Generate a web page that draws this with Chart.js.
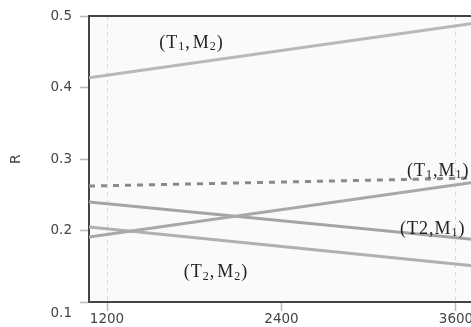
<!DOCTYPE html>
<html>
<head>
<meta charset="utf-8">
<script src="https://cdn.jsdelivr.net/npm/chart.js@4/dist/chart.umd.min.js"></script>
<style>
html, body { margin: 0; padding: 0; overflow: hidden; background: #fff; }
#wrap { width: 490px; height: 327px; }
</style>
</head>
<body>
<div id="wrap"><canvas id="c"></canvas></div>
<script>
// ---- data ----
const xEnds = [1076, 3834];          // x values at the left and right ends of the lines
const xTicks = [1200, 2400, 3600];
const yTicks = [0.1, 0.2, 0.3, 0.4, 0.5];
const seriesT1M2 = [0.4138, 0.4930];
const seriesT1M1Dashed = [0.2622, 0.2740];
const seriesT1M1 = [0.1909, 0.2707];
const seriesT2M1 = [0.2399, 0.1855];
const seriesT2M2 = [0.2050, 0.1482];
const axisTitle = 'R';
// annotations: text ('_' marks a subscript character) and anchor in data units
const noteTexts = ['(T_1, M_2)', '(T_1,M_1)', '(T2,M_1)', '(T_2, M_2)'];
const noteX = [1560, 3263, 3215, 1727];
const noteY = [0.462, 0.2832, 0.2021, 0.1413];

const pts = (vals) => xEnds.map((x, i) => ({ x: x, y: vals[i] }));

const bgPlugin = {
  id: 'bg',
  beforeDraw(chart) {
    const a = chart.chartArea, ctx = chart.ctx;
    ctx.save();
    ctx.fillStyle = '#fafafa';
    ctx.fillRect(a.left, a.top, a.right - a.left, a.bottom - a.top);
    ctx.restore();
  },
  afterDraw(chart) {
    const a = chart.chartArea, ctx = chart.ctx;
    ctx.save();
    ctx.strokeStyle = '#444';
    ctx.lineWidth = 2;
    ctx.beginPath();
    ctx.moveTo(a.left - 1, a.top);
    ctx.lineTo(a.right, a.top);
    ctx.stroke();
    // bottom y tick label, drawn lower than its tick as in the source
    const ys = chart.scales.y;
    ctx.fillStyle = '#444';
    ctx.font = '13.5px "DejaVu Sans"';
    ctx.textAlign = 'right';
    ctx.textBaseline = 'middle';
    ctx.fillText(yTicks[0].toFixed(1), a.left - 17, ys.getPixelForValue(yTicks[0]) + 11);
    ctx.restore();
  }
};

const notePlugin = {
  id: 'notes',
  afterDatasetsDraw(chart) {
    const ctx = chart.ctx, xs = chart.scales.x, ys = chart.scales.y;
    ctx.save();
    ctx.fillStyle = '#222';
    ctx.textBaseline = 'middle';
    ctx.textAlign = 'left';
    noteTexts.forEach((t, k) => {
      let px = xs.getPixelForValue(noteX[k]);
      const py = ys.getPixelForValue(noteY[k]);
      for (let i = 0; i < t.length; i++) {
        let ch = t[i], sub = false;
        if (ch === '_') { sub = true; i++; ch = t[i]; }
        if (ch === ' ') { px += 2; continue; }
        ctx.font = sub ? '12px "Liberation Serif"' : '18px "Liberation Serif"';
        ctx.fillText(ch, px, py + (sub ? 4 : 0));
        px += ctx.measureText(ch).width + 1;
      }
    });
    ctx.restore();
  }
};

const lineDs = (label, vals, color, width, dash) => ({
  label: label,
  data: pts(vals),
  showLine: true,
  borderColor: color,
  borderWidth: width,
  borderDash: dash || [],
  pointRadius: 0,
  fill: false,
  tension: 0
});

new Chart(document.getElementById('c'), {
  type: 'scatter',
  data: {
    datasets: [
      lineDs('(T1,M2)', seriesT1M2, '#b8b8bc', 3),
      lineDs('(T1,M1) dashed', seriesT1M1Dashed, '#8a8a8c', 3, [6, 6]),
      lineDs('(T1,M1)', seriesT1M1, '#a8a8ac', 3),
      lineDs('(T2,M1)', seriesT2M1, '#a4a4a8', 3),
      lineDs('(T2,M2)', seriesT2M2, '#b0b0b4', 3)
    ]
  },
  options: {
    responsive: true,
    maintainAspectRatio: false,
    animation: false,
    layout: { padding: { top: 15, right: 0, left: 0, bottom: 0 } },
    plugins: { legend: { display: false }, tooltip: { enabled: false } },
    scales: {
      x: {
        type: 'linear',
        min: xEnds[0],
        max: xEnds[1],
        afterBuildTicks: (s) => { s.ticks = xTicks.map(v => ({ value: v })); },
        afterFit: (s) => { s.height = 25; },
        ticks: {
          color: '#444',
          font: { family: 'DejaVu Sans', size: 13.5 },
          padding: 0,
          maxRotation: 0,
          callback: (v) => String(v)
        },
        grid: {
          color: (c) => (c.tick && c.tick.value === xTicks[1]) ? 'rgba(0,0,0,0)' : '#d8d8d8',
          lineWidth: 1,
          drawOnChartArea: true,
          drawTicks: true,
          tickLength: 9,
          tickColor: '#bbb',
          tickWidth: 1.5,
          tickBorderDash: []
        },
        border: { display: true, color: '#444', width: 2, dash: [4, 4] }
      },
      y: {
        type: 'linear',
        min: yTicks[0],
        max: yTicks[yTicks.length - 1],
        afterBuildTicks: (s) => { s.ticks = yTicks.map(v => ({ value: v })); },
        afterFit: (s) => { s.width = 89; },
        ticks: {
          color: '#444',
          font: { family: 'DejaVu Sans', size: 13.5 },
          padding: 8,
          callback: (v) => (v === yTicks[0] ? '' : Number(v).toFixed(1))
        },
        grid: {
          drawOnChartArea: false,
          drawTicks: true,
          tickLength: 9,
          tickColor: '#bbb',
          tickWidth: 1.5,
          color: '#bbb'
        },
        border: { display: true, color: '#444', width: 2 },
        title: {
          display: true,
          text: axisTitle,
          color: '#444',
          font: { family: 'DejaVu Sans', size: 14 },
          padding: { top: 8, bottom: 0 }
        }
      }
    }
  },
  plugins: [bgPlugin, notePlugin]
});
</script>
</body>
</html>
